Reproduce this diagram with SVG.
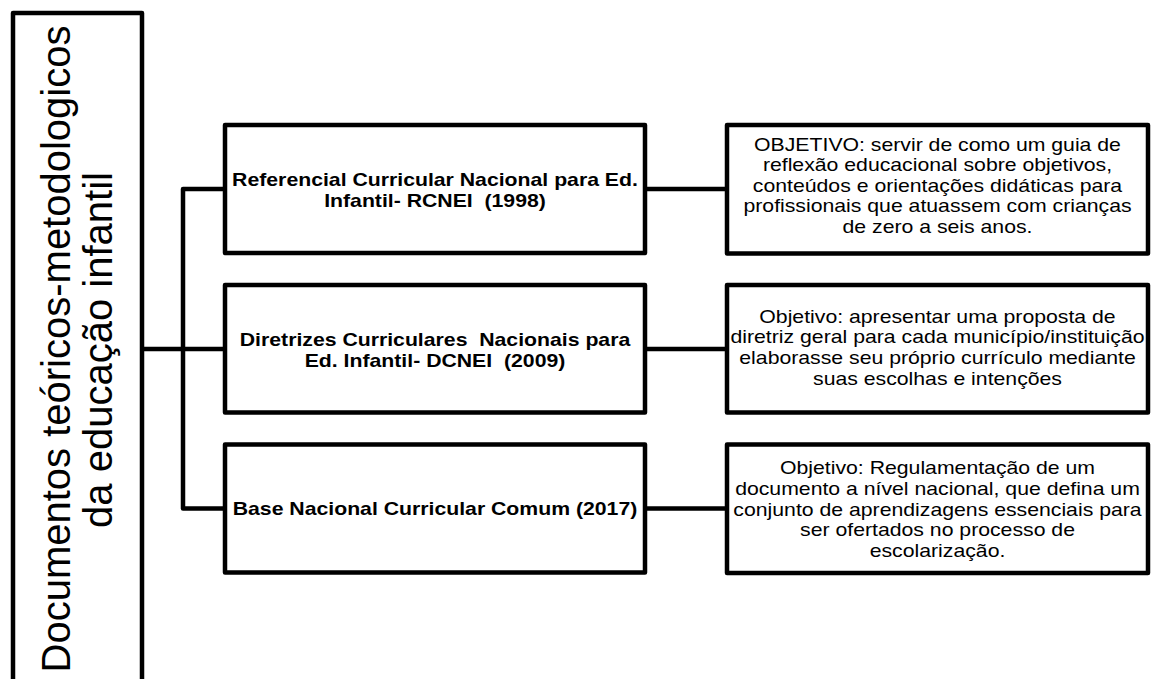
<svg xmlns="http://www.w3.org/2000/svg" width="1157" height="679" viewBox="0 0 1157 679">
<style>
.box{fill:#fff;stroke:#000;stroke-width:4.5;stroke-linejoin:round}
.ln{fill:none;stroke:#000;stroke-width:4.5;stroke-linejoin:round}
.t{font-family:"Liberation Sans",Arial,sans-serif;font-size:18px;fill:#000;text-anchor:middle}
.b{font-weight:bold}
.big{font-family:"Liberation Sans",Arial,sans-serif;font-size:40px;fill:#000;text-anchor:middle}
</style>
<rect width="1157" height="679" fill="#fff"/>
<g id="connectors">
<path class="ln" d="M142,349 H225"/>
<path class="ln" d="M225,189 H183 V508.5 H225"/>
<path class="ln" d="M645,189 H727"/>
<path class="ln" d="M645,349 H727"/>
<path class="ln" d="M645,508.5 H727"/>
</g>
<g id="root">
<rect class="box" x="13" y="13" width="129" height="672"/>
<text class="big" transform="translate(70,349) rotate(-90)">Documentos teóricos-metodologicos</text>
<text class="big" transform="translate(112,350) rotate(-90)">da educação infantil</text>
</g>
<g id="rcnei">
<rect class="box" x="225" y="125" width="420" height="128"/>
<text class="t b" transform="matrix(1.18,0,0,1,435,0)"><tspan x="0" y="186">Referencial Curricular Nacional para Ed.</tspan><tspan x="0" y="207">Infantil- RCNEI&#160; (1998)</tspan></text>
</g>
<g id="dcnei">
<rect class="box" x="225" y="285" width="420" height="127.5"/>
<text class="t b" transform="matrix(1.18,0,0,1,435,0)"><tspan x="0" y="346">Diretrizes Curriculares&#160; Nacionais para</tspan><tspan x="0" y="367">Ed. Infantil- DCNEI&#160; (2009)</tspan></text>
</g>
<g id="bncc">
<rect class="box" x="225" y="444.5" width="420" height="128"/>
<text class="t b" transform="matrix(1.18,0,0,1,435,0)"><tspan x="0" y="515">Base Nacional Curricular Comum (2017)</tspan></text>
</g>
<g id="obj-rcnei">
<rect class="box" x="727" y="125" width="421" height="128.5"/>
<text class="t" transform="matrix(1.18,0,0,1,937.5,0)"><tspan x="0" y="150.7">OBJETIVO: servir de como um guia de</tspan><tspan x="0" y="171.2">reflexão educacional sobre objetivos,</tspan><tspan x="0" y="191.7">conteúdos e orientações didáticas para</tspan><tspan x="0" y="212.2">profissionais que atuassem com crianças</tspan><tspan x="0" y="232.7">de zero a seis anos.</tspan></text>
</g>
<g id="obj-dcnei">
<rect class="box" x="727" y="285" width="421" height="127.5"/>
<text class="t" transform="matrix(1.18,0,0,1,937.5,0)"><tspan x="0" y="322.7">Objetivo: apresentar uma proposta de</tspan><tspan x="0" y="343.3">diretriz geral para cada município/instituição</tspan><tspan x="0" y="364">elaborasse seu próprio currículo mediante</tspan><tspan x="0" y="384.7">suas escolhas e intenções</tspan></text>
</g>
<g id="obj-bncc">
<rect class="box" x="727" y="444.5" width="421" height="128.5"/>
<text class="t" transform="matrix(1.18,0,0,1,937.5,0)"><tspan x="0" y="474.3">Objetivo: Regulamentação de um</tspan><tspan x="0" y="495">documento a nível nacional, que defina um</tspan><tspan x="0" y="515.7">conjunto de aprendizagens essenciais para</tspan><tspan x="0" y="536.4">ser ofertados no processo de</tspan><tspan x="0" y="557.1">escolarização.</tspan></text>
</g>
</svg>
